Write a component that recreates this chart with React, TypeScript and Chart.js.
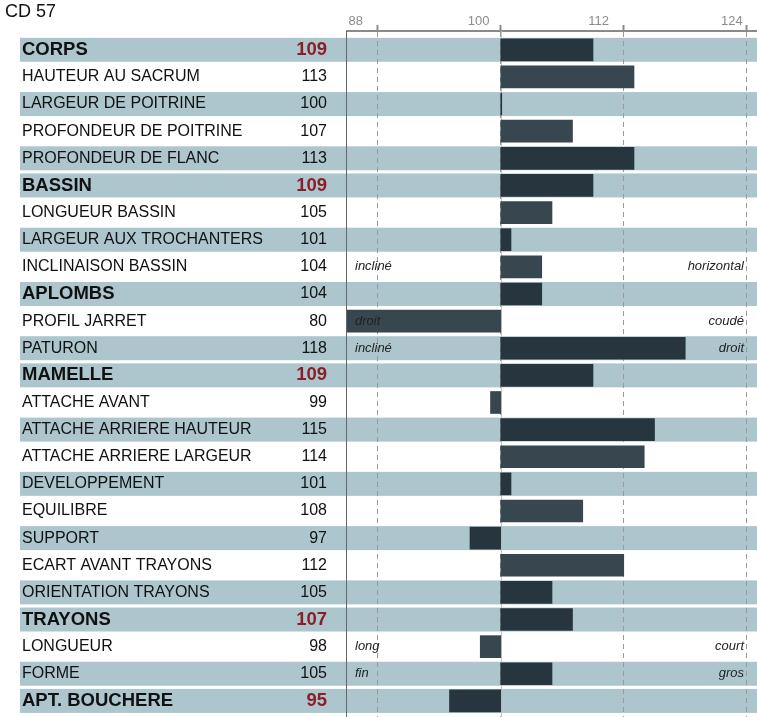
import React, { useEffect, useRef } from 'react';
import { Chart, registerables } from 'chart.js';

Chart.register(...registerables);

const title = 'CD 57';

const categories = [
  'CORPS',
  'HAUTEUR AU SACRUM',
  'LARGEUR DE POITRINE',
  'PROFONDEUR DE POITRINE',
  'PROFONDEUR DE FLANC',
  'BASSIN',
  'LONGUEUR BASSIN',
  'LARGEUR AUX TROCHANTERS',
  'INCLINAISON BASSIN',
  'APLOMBS',
  'PROFIL JARRET',
  'PATURON',
  'MAMELLE',
  'ATTACHE AVANT',
  'ATTACHE ARRIERE HAUTEUR',
  'ATTACHE ARRIERE LARGEUR',
  'DEVELOPPEMENT',
  'EQUILIBRE',
  'SUPPORT',
  'ECART AVANT TRAYONS',
  'ORIENTATION TRAYONS',
  'TRAYONS',
  'LONGUEUR',
  'FORME',
  'APT. BOUCHERE',
];

const scores = [
  109, 113, 100, 107, 113,
  109, 105, 101, 104,
  104, 80, 118,
  109, 99, 115, 114, 101, 108, 97, 112, 105,
  107, 98, 105,
  95,
];

const headerRows = ['CORPS', 'BASSIN', 'APLOMBS', 'MAMELLE', 'TRAYONS', 'APT. BOUCHERE'];
const plainValueHeaders = ['APLOMBS'];

const leftNotes = [
  '', '', '', '', '',
  '', '', '', 'incliné',
  '', 'droit', 'incliné',
  '', '', '', '', '', '', '', '', '',
  '', 'long', 'fin',
  '',
];

const rightNotes = [
  '', '', '', '', '',
  '', '', '', 'horizontal',
  '', 'coudé', 'droit',
  '', '', '', '', '', '', '', '', '',
  '', 'court', 'gros',
  '',
];

const tickValues = [88, 100, 112, 124];
const tickLabels = ['88   ', '100  ', '112   ', '124'];
const axisMin = 85;
const axisMax = 125;
const baseline = 100;

const BAND = '#adc6cd';
const BAR_DARK = '#26353e';
const BAR_LIGHT = '#38474f';
const RED = '#8a1f28';
const FONT = '"Liberation Sans", Arial, sans-serif';

// shading: header rows shaded; inside a group rows alternate white / shaded
const shaded: boolean[] = (() => {
  const out: boolean[] = [];
  let k = 0;
  categories.forEach((c) => {
    if (headerRows.includes(c)) {
      out.push(true);
      k = 0;
    } else {
      k += 1;
      out.push(k % 2 === 0);
    }
  });
  return out;
})();

const tablePlugin = {
  id: 'tablePlugin',
  beforeDraw(chart: any) {
    const { ctx } = chart;
    const y = chart.scales.y;
    ctx.save();
    ctx.fillStyle = BAND;
    categories.forEach((_, i) => {
      if (!shaded[i]) return;
      const py = y.getPixelForValue(i);
      ctx.fillRect(20, py - 12, chart.width - 20, 24);
    });
    ctx.restore();
  },
  beforeDatasetsDraw(chart: any) {
    const { ctx, chartArea } = chart;
    const x = chart.scales.x;
    const px = Math.round(x.getPixelForValue(baseline)) + 0.5;
    ctx.save();
    ctx.strokeStyle = '#c4c4c4';
    ctx.lineWidth = 1;
    ctx.beginPath();
    ctx.moveTo(px, chartArea.top);
    ctx.lineTo(px, chartArea.bottom);
    ctx.stroke();
    ctx.restore();
  },
  afterDatasetsDraw(chart: any) {
    const { ctx, chartArea } = chart;
    const y = chart.scales.y;
    ctx.save();
    // left border of plot
    ctx.strokeStyle = '#666';
    ctx.lineWidth = 1;
    ctx.beginPath();
    ctx.moveTo(Math.round(chartArea.left) - 0.5, chartArea.top);
    ctx.lineTo(Math.round(chartArea.left) - 0.5, chartArea.bottom);
    ctx.stroke();

    ctx.textBaseline = 'middle';
    categories.forEach((c, i) => {
      const py = y.getPixelForValue(i);
      const isHeader = headerRows.includes(c);
      ctx.fillStyle = '#111';
      ctx.textAlign = 'left';
      ctx.font = isHeader ? `bold 18.5px ${FONT}` : `16px ${FONT}`;
      ctx.fillText(c, 22, py);
      const redVal = isHeader && !plainValueHeaders.includes(c);
      ctx.textAlign = 'right';
      ctx.font = redVal ? `bold 18.5px ${FONT}` : `16px ${FONT}`;
      ctx.fillStyle = redVal ? RED : '#111';
      ctx.fillText(String(scores[i]), 327, py);

      ctx.font = `italic 13px ${FONT}`;
      ctx.fillStyle = '#222';
      if (leftNotes[i]) {
        ctx.textAlign = 'left';
        ctx.fillText(leftNotes[i], chartArea.left + 8, py);
      }
      if (rightNotes[i]) {
        ctx.textAlign = 'right';
        ctx.fillText(rightNotes[i], chartArea.right - 13, py);
      }
    });

    ctx.textAlign = 'left';
    ctx.font = `18px ${FONT}`;
    ctx.fillStyle = '#111';
    ctx.fillText(title, 5, 12);
    ctx.restore();
  },
};

export default function App() {
  const ref = useRef<HTMLCanvasElement>(null);

  useEffect(() => {
    Chart.defaults.font.family = FONT;
    const chart = new Chart(ref.current as HTMLCanvasElement, {
      type: 'bar',
      data: {
        datasets: [
          {
            data: scores.map((v, i) => ({ x: [baseline, v], y: i })) as any,
            backgroundColor: scores.map((_, i) => (shaded[i] ? BAR_DARK : BAR_LIGHT)),
            barThickness: 22,
            minBarLength: 1,
            borderWidth: 0,
          },
        ],
      },
      options: {
        indexAxis: 'y',
        animation: false,
        responsive: false,
        layout: { padding: { left: 347, right: 0, top: 0, bottom: 0 } },
        plugins: { legend: { display: false }, tooltip: { enabled: false }, title: { display: false } },
        scales: {
          x: {
            type: 'linear',
            position: 'top',
            min: axisMin,
            max: axisMax,
            afterBuildTicks: (s: any) => {
              s.ticks = tickValues.map((v) => ({ value: v }));
            },
            afterFit: (s: any) => {
              s.height = 31;
            },
            ticks: {
              color: '#8c8c8c',
              font: { size: 13, family: FONT },
              align: 'end',
              labelOffset: -4,
              padding: -4,
              autoSkip: false,
              maxRotation: 0,
              callback: (v: any) => {
                const k = tickValues.indexOf(Number(v));
                return k >= 0 ? tickLabels[k] : String(v);
              },
            },
            grid: {
              color: '#9a9a9a',
              lineWidth: 1,
              tickLength: 6,
              tickWidth: 2,
              tickColor: '#8a8a8a',
              drawOnChartArea: true,
            },
            border: { display: true, color: '#8a8a8a', width: 2, dash: [5, 4] },
          },
          y: {
            type: 'linear',
            reverse: true,
            min: -0.693,
            max: 24.593,
            offset: false,
            bounds: 'data',
            grace: 0,
            display: false,
            grid: { offset: false },
            afterDataLimits: (s: any) => {
              s.min = -0.693;
              s.max = 24.593;
            },
            afterBuildTicks: (s: any) => {
              s.min = -0.693;
              s.max = 24.593;
            },
          },
        },
      },
      plugins: [tablePlugin],
    } as any);
    return () => chart.destroy();
  }, []);

  return (
    <div style={{ position: 'absolute', left: 0, top: 0, width: 757, height: 717, background: '#fff' }}>
      <canvas ref={ref} width={757} height={717} style={{ display: 'block' }} />
    </div>
  );
}
